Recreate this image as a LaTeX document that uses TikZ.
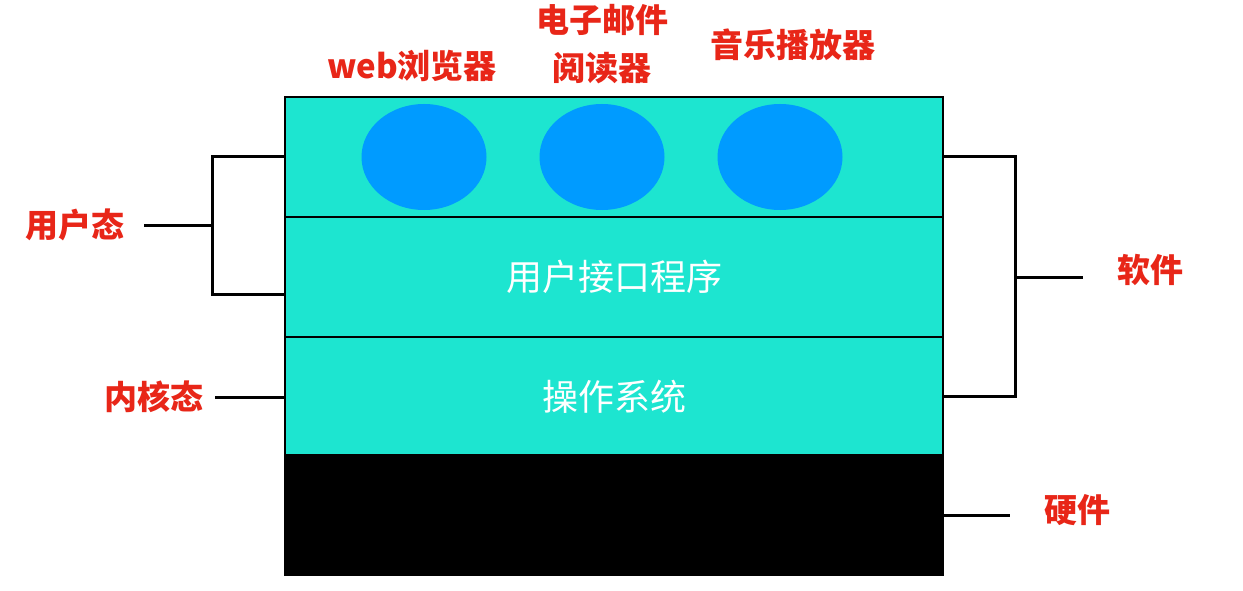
\documentclass[tikz,border=0pt]{standalone}
\usepackage{fontspec}
\newfontfamily\cjk{Noto Sans CJK SC}
\usetikzlibrary{shapes.geometric}
\definecolor{layerc}{RGB}{29,229,208}
\definecolor{blobc}{RGB}{0,155,255}
\definecolor{labc}{RGB}{232,38,24}
\tikzset{
  layer/.style={draw=black, line width=2pt, minimum width=658pt, minimum height=120pt, inner sep=0pt, fill=layerc},
  blob/.style={ellipse, fill=blobc, minimum width=125pt, minimum height=106pt, inner sep=0pt},
  redlab/.style={text=labc, font=\cjk\bfseries\fontsize{33}{48}\selectfont, align=center, inner sep=0pt},
  whitelab/.style={text=white, font=\cjk\fontsize{36}{40}\selectfont, inner sep=0pt},
  br/.style={draw=black, line width=3pt, line cap=rect}
}
\begin{document}
\begin{tikzpicture}[x=1pt,y=-1pt]
\useasboundingbox[fill=white] (0,0) rectangle (1243,591);
% layers
\node[layer] (L1) at (614,157) {};
\node[layer] (L2) at (614,277) {};
\node[layer, minimum height=118pt] (L3) at (614,396) {};
\node[layer, fill=black] (L4) at (614,515) {};
% programs
\node[blob] (e1) at (424,157) {};
\node[blob] (e2) at (602,157) {};
\node[blob] (e3) at (780,157) {};
% texts
\node[whitelab] (ui) at (614,277) {用户接口程序};
\node[whitelab] (os) at (614,397) {操作系统};
\node[redlab] (web) at (412,66) {web浏览器};
\node[redlab] (mail) at (602,44) {电子邮件\\阅读器};
\node[redlab] (music) at (793,45) {音乐播放器};
\node[redlab] (user) at (75,225) {用户态};
\node[redlab] (kern) at (154,397) {内核态};
\node[redlab] (soft) at (1150,270) {软件};
\node[redlab] (hard) at (1077,510) {硬件};
% left bracket
\coordinate (lt) at (212,157);
\coordinate (lb) at (212,294);
\coordinate (lbe) at (283,294);
\coordinate (lm) at (212,225);
\coordinate (lms) at (145,225);
\coordinate (ks) at (216,397);
\draw[br] (L1.west) -- (lt) -- (lb) -- (lbe);
\draw[br] (lms) -- (lm);
\draw[br] (ks) -- (L3.west |- ks);
% right bracket
\coordinate (rt) at (1015,157);
\coordinate (rb) at (1015,396);
\coordinate (rm) at (1015,277);
\coordinate (rme) at (1081,277);
\coordinate (he) at (1008,515);
\draw[br] (L1.east) -- (rt) -- (rb) -- (L3.east);
\draw[br] (rm) -- (rme);
\draw[br] (L4.east) -- (he);
\end{tikzpicture}
\end{document}
